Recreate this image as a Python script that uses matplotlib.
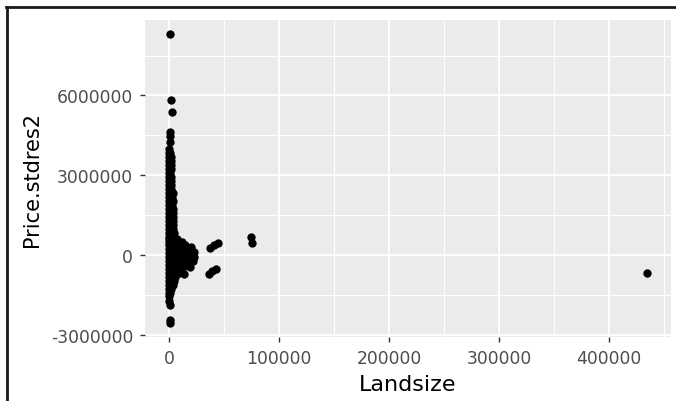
import matplotlib
matplotlib.use("Agg")
import matplotlib.pyplot as plt
from matplotlib.lines import Line2D
import matplotlib.ticker as ticker

# Landsize vs. studentised price residuals (Price.stdres2)
landsize = [
    # tall outliers above the main column
    900, 2200, 2700, 900, 900, 600, 400,
    # narrow upper column
    0, 1000, 0, 1800, 0, 2000, 0, 1600, 0, 1500,
    0, 1200, 0, 1500, 0, 1700, 0, 1500, 0, 2200,
    # column widening
    0, 1500, 3300, 0, 1500, 3000, 0, 1500, 3600, 0, 1500, 3200,
    0, 1500, 3800, 0, 1500, 3500, 0, 1500, 3900, 0, 1500, 3600,
    0, 1500, 4000, 0, 1500, 3700, 0, 1500, 4300,
    0, 2500, 4800, 0, 2500, 5000, 7500,
    0, 3000, 6000, 9000, 12000,
    0, 3000, 6000, 9000, 12500, 15000,
    0, 3000, 6000, 9500, 13000, 16000,
    0, 3000, 6000, 9500, 13000, 16500,
    0, 3000, 6000, 9500, 13000, 17000,
    0, 3000, 6000, 9500, 13000, 16000,
    0, 3000, 6000, 9500, 12500,
    0, 3000, 6000, 9000, 11500,
    # bulge on the right side of the cluster
    19700, 20200, 22700, 22700, 21500, 16700, 19200, 13600,
    # lower body and tail
    0, 3000, 6000, 9000,
    0, 2500, 5500, 0, 2500, 5000, 0, 2000, 4000,
    0, 1500, 0, 700, 500, 400, 600, 600, 600,
    # larger lots
    37500, 40800, 44800, 36300, 39400, 42400,
    74700, 75700,
    434300,
]

price_stdres2 = [
    8310000, 5840000, 5380000, 4630000, 4490000, 4260000, 4000000,
    3850000, 3850000, 3700000, 3700000, 3550000, 3550000, 3400000, 3400000, 3250000, 3250000,
    3100000, 3100000, 2950000, 2950000, 2800000, 2800000, 2650000, 2650000, 2500000, 2500000,
    2350000, 2350000, 2350000, 2200000, 2200000, 2200000, 2050000, 2050000, 2050000, 1900000, 1900000, 1900000,
    1750000, 1750000, 1750000, 1600000, 1600000, 1600000, 1450000, 1450000, 1450000, 1300000, 1300000, 1300000,
    1150000, 1150000, 1150000, 1000000, 1000000, 1000000, 850000, 850000, 850000,
    700000, 700000, 700000, 600000, 600000, 600000, 600000,
    500000, 500000, 500000, 500000, 500000,
    380000, 380000, 380000, 380000, 380000, 380000,
    250000, 250000, 250000, 250000, 250000, 250000,
    100000, 100000, 100000, 100000, 100000, 100000,
    -50000, -50000, -50000, -50000, -50000, -50000,
    -200000, -200000, -200000, -200000, -200000, -200000,
    -350000, -350000, -350000, -350000, -350000,
    -500000, -500000, -500000, -500000, -500000,
    310000, 180000, 130000, -60000, -200000, -370000, -430000, -690000,
    -650000, -650000, -650000, -650000,
    -800000, -800000, -800000, -950000, -950000, -950000, -1100000, -1100000, -1100000,
    -1250000, -1250000, -1400000, -1400000, -1520000, -1700000, -1870000, -2440000, -2520000,
    290000, 400000, 460000, -690000, -570000, -500000,
    700000, 460000,
    -650000,
]

x_ticks = [0, 100000, 200000, 300000, 400000]
x_minor = [50000, 150000, 250000, 350000, 450000]
y_ticks = [-3000000, 0, 3000000, 6000000]
y_minor = [-1500000, 1500000, 4500000, 7500000]

plt.rcParams["font.family"] = ["DejaVu Sans"]

fig = plt.figure(figsize=(6.76, 4.02), dpi=100)
ax = fig.add_axes([145 / 676, 1 - 338 / 402, (670.5 - 145) / 676, (338 - 20.5) / 402])

ax.set_facecolor("#EBEBEB")
for s in ax.spines.values():
    s.set_visible(False)

ax.scatter(landsize, price_stdres2, s=36, color="black", linewidths=0, zorder=3)

# ggplot-style 5% expansion on both axes
xr = max(landsize) - min(landsize)
yr = max(price_stdres2) - min(price_stdres2)
ax.set_xlim(min(landsize) - 0.05 * xr, max(landsize) + 0.05 * xr)
ax.set_ylim(min(price_stdres2) - 0.05 * yr, max(price_stdres2) + 0.05 * yr)

ax.set_xticks(x_ticks)
ax.set_xticks(x_minor, minor=True)
ax.set_yticks(y_ticks)
ax.set_yticks(y_minor, minor=True)
ax.xaxis.set_major_formatter(ticker.FormatStrFormatter("%d"))
ax.yaxis.set_major_formatter(ticker.FormatStrFormatter("%d"))

ax.grid(which="major", color="white", linewidth=1.3, zorder=0)
ax.grid(which="minor", color="white", linewidth=0.7, zorder=0)
ax.set_axisbelow(True)

ax.tick_params(which="major", length=3.6, width=1.0, color="#333333",
               labelcolor="#4D4D4D", labelsize=12.3, pad=5)
ax.tick_params(which="minor", length=0)

ax.set_xlabel("Landsize", fontsize=16, labelpad=5)
ax.set_ylabel("Price.stdres2", fontsize=15, labelpad=6)

# screenshot frame along the top and left edges
fig.add_artist(Line2D([6 / 676, 1], [1 - 8 / 402, 1 - 8 / 402], color="#1A1A1A", linewidth=2))
fig.add_artist(Line2D([7 / 676, 7 / 676], [0, 1 - 8 / 402], color="#1A1A1A", linewidth=2))

fig.savefig("out.png", dpi=100)
